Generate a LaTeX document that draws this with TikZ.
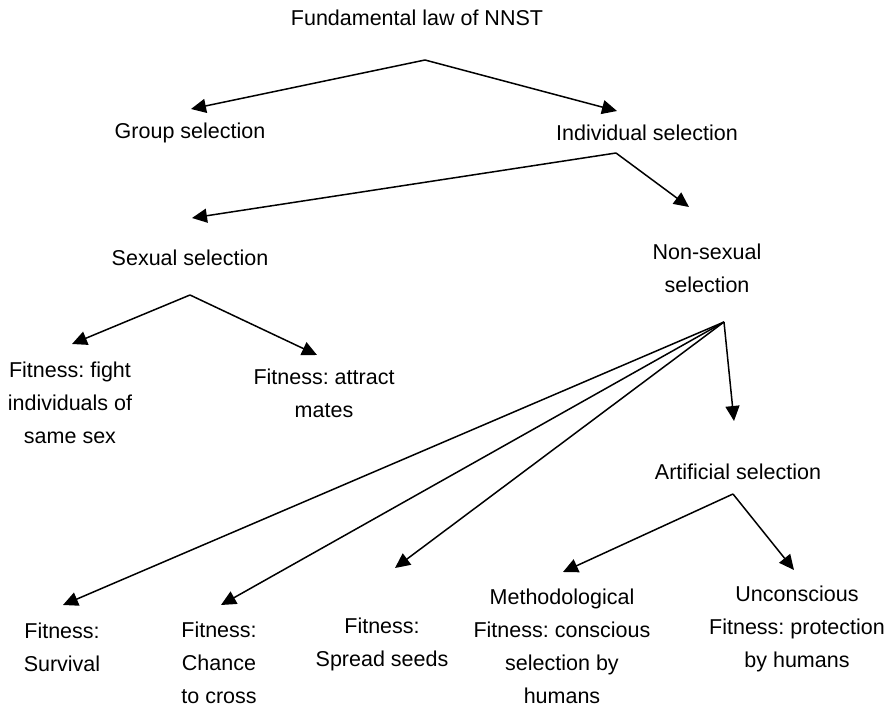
\documentclass[tikz,border=0pt]{standalone}
\usepackage{fontspec}
\setmainfont{Liberation Sans}
\usetikzlibrary{arrows.meta}
\frenchspacing

\begin{document}
\begin{tikzpicture}[x=0.5pt,y=-0.5pt,
  lbl/.style={font=\fontsize{10.75}{16.5}\selectfont,align=center,inner sep=0pt},
  arr/.style={-{Triangle[length=7.5pt,width=7pt]},line width=0.75pt}]
\useasboundingbox (0,0) rectangle (891,707);
% labels
\node[lbl] (law) at (417,18) {Fundamental law of NNST};
\node[lbl] (group) at (190,133) {Group selection};
\node[lbl] (indiv) at (647,133) {Individual selection};
\node[lbl] (sexual) at (190,258) {Sexual selection};
\node[lbl] (nonsex) at (707,268) {Non-sexual\\selection};
\node[lbl] (fight) at (70,403) {Fitness: fight\\individuals of\\same sex};
\node[lbl] (attract) at (324,393) {Fitness: attract\\mates};
\node[lbl] (artif) at (738,472) {Artificial selection};
\node[lbl] (surv) at (62,647) {Fitness:\\Survival};
\node[lbl] (chance) at (219,663) {Fitness:\\Chance\\to cross};
\node[lbl] (seeds) at (382,644) {Fitness:\\Spread seeds};
\node[lbl] (method) at (562,646) {Methodological\\Fitness: conscious\\selection by\\humans};
\node[lbl] (uncons) at (797,629) {Unconscious\\Fitness: protection\\by humans};
% branch points below the labels
\coordinate (law-b) at (425,60);
\coordinate (indiv-b) at (616,153);
\coordinate (sexual-b) at (190,295);
\coordinate (nonsex-b) at (724,322);
\coordinate (artif-b) at (733,494);
% arrow tips above the labels
\coordinate (group-t) at (191,109);
\coordinate (indiv-t) at (617,111);
\coordinate (sexual-t) at (192,218);
\coordinate (nonsex-t) at (689,207);
\coordinate (fight-t) at (72,344);
\coordinate (attract-t) at (317,355);
\coordinate (artif-t) at (734,421);
\coordinate (surv-t) at (63,605);
\coordinate (chance-t) at (221,605);
\coordinate (seeds-t) at (395,568);
\coordinate (method-t) at (563,572);
\coordinate (uncons-t) at (794,570);
% connectors
\draw[arr] (law-b) -- (group-t);
\draw[arr] (law-b) -- (indiv-t);
\draw[arr] (indiv-b) -- (sexual-t);
\draw[arr] (indiv-b) -- (nonsex-t);
\draw[arr] (sexual-b) -- (fight-t);
\draw[arr] (sexual-b) -- (attract-t);
\foreach \t in {surv-t,chance-t,seeds-t,artif-t}
  \draw[arr] (nonsex-b) -- (\t);
\draw[arr] (artif-b) -- (method-t);
\draw[arr] (artif-b) -- (uncons-t);
\end{tikzpicture}
\end{document}
